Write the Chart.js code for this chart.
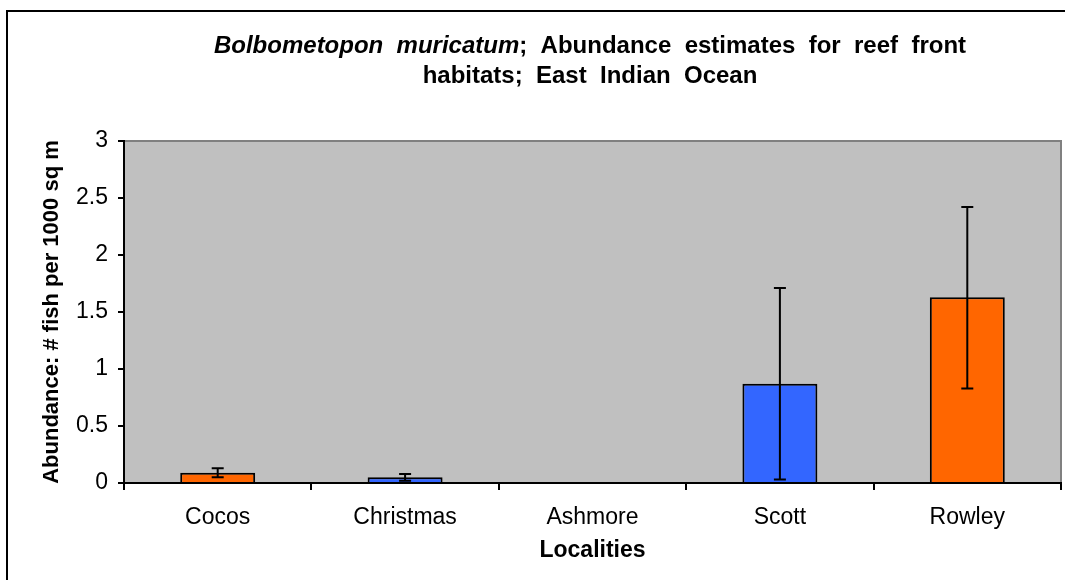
<!DOCTYPE html>
<html>
<head>
<meta charset="utf-8">
<script src="https://cdn.jsdelivr.net/npm/chart.js@4.4.0/dist/chart.umd.min.js"></script>
<style>
    body { margin: 0; background: #fff; }
    #wrap { position: relative; width: 1065px; height: 580px; overflow: hidden; }
    #frame { position: absolute; left: 6px; top: 10px; width: 1200px; height: 700px;
             border-top: 2px solid #000; border-left: 2px solid #000; }
    canvas { position: absolute; left: 0; top: 0; }
</style>
</head>
<body>
<div id="wrap">
    <div id="frame"></div>
    <canvas id="abundanceChart" width="1065" height="580"></canvas>
</div>
<script>
// data
const localities = ['Cocos', 'Christmas', 'Ashmore', 'Scott', 'Rowley'];
const abundance = [0.09, 0.05, 0, 0.87, 1.63];
const errorLow = [0.04, 0.03, 0, 0.84, 0.80];
const errorHigh = [0.04, 0.03, 0, 0.84, 0.79];
const barColors = ['#FF6600', '#3366FF', '#FF6600', '#3366FF', '#FF6600'];
const yTicks = [0, 0.5, 1, 1.5, 2, 2.5, 3];

const fontFamily = '"Liberation Sans", Arial, sans-serif';

document.addEventListener('DOMContentLoaded', function() {
    // latar abu-abu area plot
    const plotBackground = {
        id: 'plotBackground',
        beforeDraw(chart) {
            const { ctx, chartArea: a } = chart;
            ctx.save();
            ctx.fillStyle = '#C0C0C0';
            ctx.fillRect(a.left, a.top, a.right - a.left, a.bottom - a.top);
            ctx.strokeStyle = '#808080';
            ctx.lineWidth = 2;
            ctx.beginPath();
            ctx.moveTo(a.left, a.top);
            ctx.lineTo(a.right, a.top);
            ctx.lineTo(a.right, a.bottom);
            ctx.stroke();
            ctx.restore();
        }
    };

    // garis error bar
    const errorBars = {
        id: 'errorBars',
        afterDatasetsDraw(chart) {
            const { ctx } = chart;
            const yScale = chart.scales.y;
            const meta = chart.getDatasetMeta(0);
            ctx.save();
            ctx.strokeStyle = '#000';
            ctx.lineWidth = 2;
            meta.data.forEach((bar, i) => {
                if (!errorLow[i] && !errorHigh[i]) return;
                const x = bar.x;
                const yTop = yScale.getPixelForValue(abundance[i] + errorHigh[i]);
                const yBot = yScale.getPixelForValue(abundance[i] - errorLow[i]);
                ctx.beginPath();
                ctx.moveTo(x, yTop);
                ctx.lineTo(x, yBot);
                ctx.moveTo(x - 6, yTop);
                ctx.lineTo(x + 6, yTop);
                ctx.moveTo(x - 6, yBot);
                ctx.lineTo(x + 6, yBot);
                ctx.stroke();
            });
            ctx.restore();
        }
    };

    // judul dengan nama spesies miring
    const mixedTitle = {
        id: 'mixedTitle',
        afterDraw(chart) {
            const { ctx } = chart;
            const parts = [
                { text: 'Bolbometopon  muricatum', font: 'italic bold 24px ' + fontFamily },
                { text: ';  Abundance  estimates  for  reef  front', font: 'bold 24px ' + fontFamily }
            ];
            ctx.save();
            ctx.fillStyle = '#000';
            ctx.textBaseline = 'middle';
            ctx.textAlign = 'left';
            let total = 0;
            parts.forEach(p => { ctx.font = p.font; p.w = ctx.measureText(p.text).width; total += p.w; });
            let x = 590 - total / 2;
            parts.forEach(p => { ctx.font = p.font; ctx.fillText(p.text, x, 46); x += p.w; });
            ctx.font = 'bold 24px ' + fontFamily;
            ctx.textAlign = 'center';
            ctx.fillText('habitats;  East  Indian  Ocean', 590, 76);
            ctx.restore();
        }
    };

    const ctx = document.getElementById('abundanceChart').getContext('2d');
    new Chart(ctx, {
        type: 'bar',
        data: {
            labels: localities,
            datasets: [{
                label: 'Abundance',
                data: abundance,
                backgroundColor: barColors,
                borderColor: '#000',
                borderWidth: 2,
                categoryPercentage: 1,
                barPercentage: 0.4
            }]
        },
        options: {
            responsive: false,
            animation: false,
            layout: { padding: { top: 141, right: 4, bottom: 0, left: 0 } },
            plugins: {
                legend: { display: false },
                tooltip: { enabled: false },
                title: { display: false }
            },
            scales: {
                x: {
                    afterFit: s => { s.height = 97; },
                    grid: { offset: true, drawOnChartArea: false, tickLength: 7, color: '#000', lineWidth: 2 },
                    border: { color: '#000', width: 2 },
                    ticks: { color: '#000', padding: 14, font: { family: fontFamily, size: 23 } },
                    title: {
                        display: true, text: 'Localities', color: '#000',
                        padding: { top: 0, bottom: 16 },
                        font: { family: fontFamily, size: 23, weight: 'bold' }
                    }
                },
                y: {
                    min: 0,
                    max: 3,
                    afterFit: s => { s.width = 124; },
                    afterBuildTicks: s => { s.ticks = yTicks.map(v => ({ value: v })); },
                    grid: { drawOnChartArea: false, tickLength: 6, color: '#000', lineWidth: 2 },
                    border: { color: '#000', width: 2 },
                    ticks: {
                        color: '#000', padding: 10,
                        font: { family: fontFamily, size: 23 },
                        callback: v => String(v)
                    },
                    title: {
                        display: true, text: 'Abundance: # fish per 1000 sq m', color: '#000',
                        padding: { top: 39, bottom: 0 },
                        font: { family: fontFamily, size: 22, weight: 'bold' }
                    }
                }
            }
        },
        plugins: [plotBackground, errorBars, mixedTitle]
    });
});
</script>
</body>
</html>
